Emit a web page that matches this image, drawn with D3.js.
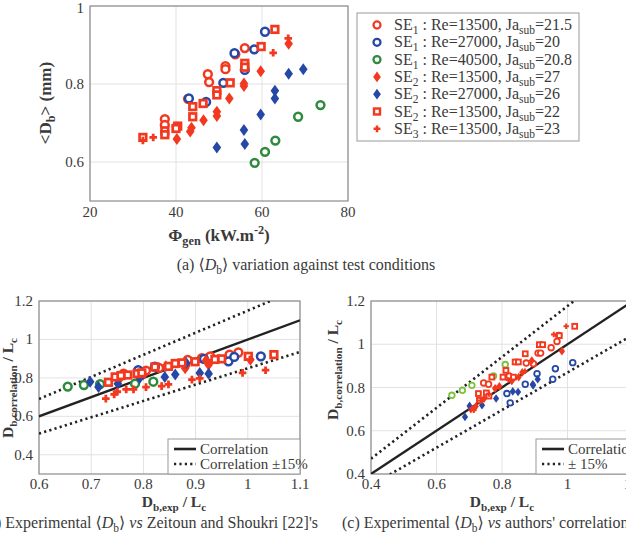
<!DOCTYPE html>
<html>
<head>
<meta charset="utf-8">
<script src="https://cdn.jsdelivr.net/npm/d3@7"></script>
<style>
body { margin: 0; background: #fff; }
</style>
</head>
<body>
<script>
// ---- data, panel (a): <Db> vs heat flux ----
const a_se1_13500 = [[37.4,0.710],[37.4,0.695],[40.2,0.690],[42.8,0.762],[47.4,0.825],[47.7,0.805],[51.5,0.846],[51.5,0.838],[53.8,0.876],[56.0,0.892]];
const a_se1_27000 = [[43.0,0.763],[47.0,0.754],[51.0,0.803],[53.6,0.879],[56.0,0.836],[58.2,0.889],[60.7,0.934]];
const a_se1_40500 = [[58.3,0.598],[60.7,0.626],[63.1,0.655],[68.4,0.716],[73.6,0.746]];
const a_se2_13500_27 = [[40.2,0.659],[43.3,0.678],[43.6,0.688],[46.4,0.707],[49.5,0.729],[49.5,0.718],[52.4,0.763],[55.8,0.795],[55.8,0.801],[59.7,0.833],[66.2,0.903]];
const a_se2_27000 = [[49.5,0.637],[55.8,0.682],[56.0,0.646],[59.7,0.722],[63.0,0.783],[63.0,0.763],[66.2,0.826],[69.6,0.838]];
const a_se2_13500_22 = [[32.3,0.663],[37.4,0.680],[37.4,0.670],[40.4,0.692],[40.0,0.686],[43.9,0.742],[43.9,0.716],[46.3,0.750],[49.5,0.783],[49.5,0.772],[52.6,0.803],[56.0,0.853],[56.0,0.843],[59.8,0.896],[63.0,0.940]];
const a_se3_13500 = [[32.3,0.655],[34.7,0.663],[62.6,0.880],[66.1,0.917]];

// ---- data, panel (b): Zeitoun and Shoukri correlation ----
const b_se1_13500 = [[0.762,0.822],[0.790,0.835],[0.805,0.838],[0.830,0.852],[0.885,0.893],[0.912,0.903],[0.928,0.912],[0.965,0.921],[0.982,0.932]];
const b_se1_27000 = [[0.790,0.840],[0.822,0.858],[0.916,0.899],[0.963,0.886],[0.974,0.909],[1.025,0.912]];
const b_se1_40500 = [[0.655,0.755],[0.686,0.763],[0.717,0.767],[0.784,0.770],[0.819,0.780]];
const b_se2_13500_27 = [[0.755,0.797],[0.800,0.818],[0.843,0.860],[0.880,0.850],[0.882,0.862],[0.920,0.890],[0.925,0.868],[1.005,0.895]];
const b_se2_27000 = [[0.698,0.780],[0.714,0.752],[0.751,0.769],[0.793,0.800],[0.841,0.805],[0.861,0.817],[0.882,0.878],[0.908,0.826],[0.925,0.822]];
const b_se2_13500_22 = [[0.733,0.777],[0.746,0.805],[0.757,0.812],[0.770,0.815],[0.788,0.822],[0.797,0.826],[0.822,0.857],[0.848,0.860],[0.861,0.875],[0.874,0.878],[0.899,0.884],[0.937,0.896],[0.950,0.899],[1.001,0.912],[1.050,0.921]];
const b_se3_13500 = [[0.728,0.692],[0.744,0.714],[0.750,0.728],[0.767,0.740],[0.781,0.740],[0.805,0.752],[0.835,0.757],[0.848,0.766],[0.893,0.791],[0.908,0.797],[0.924,0.879],[0.990,0.826],[1.004,0.895],[1.034,0.840]];

// ---- data, panel (c): authors' correlation ----
const c_se1_13500 = [[0.744,0.821],[0.759,0.815],[0.822,0.853],[0.874,0.913],[0.896,0.910],[0.910,0.959],[0.918,0.959],[0.950,0.984],[0.968,1.013],[0.973,1.041]];
const c_se1_27000 = [[0.825,0.729],[0.815,0.772],[0.871,0.815],[0.907,0.864],[0.955,0.838],[0.963,0.887],[1.016,0.915]];
const c_se1_40500 = [[0.647,0.764],[0.679,0.787],[0.708,0.810],[0.774,0.853],[0.810,0.906]];
const c_se2_13500_27 = [[0.705,0.700],[0.720,0.712],[0.745,0.748],[0.779,0.795],[0.792,0.806],[0.830,0.830],[0.851,0.848],[0.862,0.870],[0.891,0.925],[0.983,0.968]];
const c_se2_27000 = [[0.687,0.664],[0.701,0.715],[0.739,0.718],[0.782,0.749],[0.833,0.782],[0.849,0.779],[0.894,0.815],[0.895,0.810],[0.909,0.838]];
const c_se2_13500_22 = [[0.728,0.772],[0.731,0.741],[0.752,0.775],[0.760,0.760],[0.769,0.848],[0.803,0.848],[0.812,0.879],[0.835,0.848],[0.840,0.918],[0.850,0.918],[0.871,0.956],[0.914,0.998],[0.924,0.998],[0.975,1.040],[1.022,1.083]];
const c_se3_13500 = [[0.709,0.704],[0.714,0.695],[0.735,0.740],[0.760,0.770],[0.780,0.800],[0.820,0.835],[0.870,0.875],[0.958,1.045],[0.996,1.083]];

// series description (legend)
const seriesSE = ["1", "1", "1", "2", "2", "2", "3"];
const seriesRe = ["13500", "27000", "40500", "13500", "27000", "13500", "13500"];
const seriesJa = ["21.5", "20", "20.8", "27", "26", "22", "23"];
const seriesShape = ["circle", "circle", "circle", "diamond", "diamond", "square", "plus"];

// tick labels
const aXTicks = [20, 40, 60, 80];
const aYTicks = [0.6, 0.8, 1];
const bXTicks = [0.6, 0.7, 0.8, 0.9, 1, 1.1];
const bYTicks = [0.4, 0.6, 0.8, 1, 1.2];
const cXTicks = [0.4, 0.6, 0.8, 1, 1.2];
const cYTicks = [0.4, 0.6, 0.8, 1, 1.2];

const RED = "#f2391f", BLUE = "#2548a6", GREEN = "#2e8a3c", LGREEN = "#7cc242";
const TXT = "#3a3a3a";
const FONT = "'Liberation Serif', 'Times New Roman', 'DejaVu Serif', serif";

const svg = d3.select("body").append("svg").attr("width", 626).attr("height", 534)
  .style("display", "block").attr("font-family", FONT);

// text with sub/superscripts: parts = [[text, kind]] kind: "", "sub", "sup", "it"
function rich(sel, parts, size) {
  let shift = 0;
  sel.attr("font-family", FONT);
  parts.forEach(function(p) {
    const t = sel.append("tspan").text(p[0]);
    let target = 0;
    if (p[1] === "sub") target = size * 0.25;
    if (p[1] === "sup") target = -size * 0.4;
    t.attr("dy", target - shift);
    shift = target;
    if (p[1] === "sub" || p[1] === "sup") t.attr("font-size", size * 0.72);
    if (p[1] === "it") t.attr("font-style", "italic");
  });
  return sel;
}

function marker(g, shape, color, x, y, k) {
  if (shape === "circle") {
    g.append("circle").attr("cx", x).attr("cy", y).attr("r", 3.9 * k)
      .attr("fill", "#fff").attr("stroke", color).attr("stroke-width", 2.5 * k);
  } else if (shape === "square") {
    const s = 6.6 * k;
    g.append("rect").attr("x", x - s / 2).attr("y", y - s / 2).attr("width", s).attr("height", s)
      .attr("fill", "#fff").attr("stroke", color).attr("stroke-width", 2.7 * k);
  } else if (shape === "diamond") {
    const w = 4.3 * k, h = 6 * k;
    g.append("path").attr("d", "M" + x + "," + (y - h) + "L" + (x + w) + "," + y + "L" + x + "," + (y + h) + "L" + (x - w) + "," + y + "Z")
      .attr("fill", color);
  } else {
    const a = 3.8 * k, b = 1.4 * k;
    g.append("path").attr("d",
      "M" + (x - b) + "," + (y - a) + "h" + 2 * b + "v" + (a - b) + "h" + (a - b) + "v" + 2 * b + "h" + (b - a) +
      "v" + (a - b) + "h" + -2 * b + "v" + (b - a) + "h" + (b - a) + "v" + -2 * b + "h" + (a - b) + "Z")
      .attr("fill", color);
  }
}

function frame(x, y, xTicks, yTicks) {
  const g = svg.append("g");
  const [x0, x1] = x.range(), [y0, y1] = y.range();
  g.selectAll(".gx").data(xTicks).enter().append("line")
    .attr("x1", d => x(d)).attr("x2", d => x(d)).attr("y1", y0).attr("y2", y1)
    .attr("stroke", "#e2e2e2").attr("stroke-width", 1);
  g.selectAll(".gy").data(yTicks).enter().append("line")
    .attr("x1", x0).attr("x2", x1).attr("y1", d => y(d)).attr("y2", d => y(d))
    .attr("stroke", "#e2e2e2").attr("stroke-width", 1);
  g.append("rect").attr("x", x0).attr("y", y1).attr("width", x1 - x0).attr("height", y0 - y1)
    .attr("fill", "none").attr("stroke", "#8c8c8c").attr("stroke-width", 1.2);
  return g;
}

function tickLabels(x, y, xTicks, yTicks, xOff, yOff) {
  const [y0] = y.range(), [x0] = x.range();
  svg.append("g").selectAll("text").data(xTicks).enter().append("text")
    .attr("x", d => x(d)).attr("y", y0 + xOff).attr("text-anchor", "middle")
    .attr("font-family", FONT).attr("font-size", 15).attr("fill", TXT).text(d => d);
  svg.append("g").selectAll("text").data(yTicks).enter().append("text")
    .attr("x", x0 - yOff).attr("y", d => Math.max(y(d) + 5, 13)).attr("text-anchor", "end")
    .attr("font-family", FONT).attr("font-size", 15).attr("fill", TXT).text(d => d);
}

function drawSeries(g, x, y, list, colors, k) {
  list.forEach(function(data, i) {
    data.forEach(function(d) {
      marker(g, seriesShape[i], colors[i], x(d[0]), y(d[1]), k);
    });
  });
}

function panelA() {
  const x = d3.scaleLinear().domain([20, 80]).range([90, 348]);
  const y = d3.scaleLinear().domain([0.5, 1]).range([201, 6]);
  frame(x, y, aXTicks, aYTicks);
  tickLabels(x, y, aXTicks, aYTicks, 16, 6);
  const colors = [RED, BLUE, GREEN, RED, BLUE, RED, RED];
  const g = svg.append("g");
  drawSeries(g, x, y, [a_se1_13500, a_se1_27000, a_se1_40500, a_se2_13500_27, a_se2_27000, a_se2_13500_22, a_se3_13500], colors, 1);

  rich(svg.append("text").attr("x", 219).attr("y", 241).attr("text-anchor", "middle")
    .attr("font-size", 17).attr("font-weight", "bold").attr("fill", TXT),
    [["\u03A6", ""], ["gen", "sub"], ["  (kW.m", ""], ["-2", "sup"], [")", ""]], 17);
  rich(svg.append("text").attr("transform", "translate(51,103) rotate(-90)").attr("text-anchor", "middle")
    .attr("font-size", 17).attr("font-weight", "bold").attr("fill", TXT),
    [["<D", ""], ["b", "sub"], [">  (mm)", ""]], 17);
  rich(svg.append("text").attr("x", 306).attr("y", 270).attr("text-anchor", "middle")
    .attr("font-size", 16).attr("fill", TXT),
    [["(a) \u27E8", ""], ["D", "it"], ["b", "sub"], ["\u27E9 variation against test conditions", ""]], 16);

  // legend
  const lg = svg.append("g");
  lg.append("rect").attr("x", 357).attr("y", 13).attr("width", 222).attr("height", 128)
    .attr("fill", "#fff").attr("stroke", "#999").attr("stroke-width", 1);
  seriesSE.forEach(function(se, i) {
    const yy = 25 + i * 17.3;
    marker(lg, seriesShape[i], colors[i], 377, yy, 0.9);
    rich(lg.append("text").attr("x", 394).attr("y", yy + 5).attr("font-size", 16).attr("fill", TXT),
      [["SE", ""], [se, "sub"], [" : Re=" + seriesRe[i] + ", Ja", ""], ["sub", "sub"], ["=" + seriesJa[i], ""]], 16);
  });
}

function refLines(g, x, y, solid, dotted) {
  const clipId = "clip" + Math.round(x.range()[0]);
  svg.append("clipPath").attr("id", clipId).append("rect")
    .attr("x", x.range()[0]).attr("y", y.range()[1])
    .attr("width", x.range()[1] - x.range()[0]).attr("height", y.range()[0] - y.range()[1]);
  const line = d3.line().x(d => x(d[0])).y(d => y(d[1]));
  const xs = x.domain();
  const lg = g.append("g").attr("clip-path", "url(#" + clipId + ")");
  lg.append("path").attr("d", line(xs.map(v => [v, solid(v)])))
    .attr("stroke", "#222").attr("stroke-width", 2.3).attr("fill", "none");
  dotted.forEach(function(f) {
    lg.append("path").attr("d", line(xs.map(v => [v, f(v)])))
      .attr("stroke", "#222").attr("stroke-width", 2.6).attr("fill", "none")
      .attr("stroke-dasharray", "2.2,3.2");
  });
}

function smallLegend(x0, y0, w, labels) {
  const lg = svg.append("g");
  lg.append("rect").attr("x", x0).attr("y", y0).attr("width", w).attr("height", 35)
    .attr("fill", "#fff").attr("stroke", "#999").attr("stroke-width", 1);
  lg.append("line").attr("x1", x0 + 6).attr("x2", x0 + 28).attr("y1", y0 + 10).attr("y2", y0 + 10)
    .attr("stroke", "#222").attr("stroke-width", 2.6);
  lg.append("line").attr("x1", x0 + 6).attr("x2", x0 + 28).attr("y1", y0 + 25).attr("y2", y0 + 25)
    .attr("stroke", "#222").attr("stroke-width", 2.6).attr("stroke-dasharray", "2.2,3.2");
  labels.forEach(function(t, i) {
    lg.append("text").attr("x", x0 + 32).attr("y", y0 + 15 + i * 15)
      .attr("font-family", FONT).attr("font-size", 15).attr("fill", TXT).text(t);
  });
}

function axisTitles(cx, cy, yx, yy) {
  rich(svg.append("text").attr("x", cx).attr("y", cy).attr("text-anchor", "middle")
    .attr("font-size", 15.5).attr("font-weight", "bold").attr("fill", TXT),
    [["D", ""], ["b,exp", "sub"], ["  /  L", ""], ["c", "sub"]], 15.5);
  rich(svg.append("text").attr("transform", "translate(" + yx + "," + yy + ") rotate(-90)").attr("text-anchor", "middle")
    .attr("font-size", 15.5).attr("font-weight", "bold").attr("fill", TXT),
    [["D", ""], ["b,correlation", "sub"], [" / L", ""], ["c", "sub"]], 15.5);
}

function panelB() {
  const x = d3.scaleLinear().domain([0.6, 1.1]).range([39, 300]);
  const y = d3.scaleLinear().domain([0.3, 1.2]).range([474, 301]);
  frame(x, y, bXTicks, bYTicks);
  tickLabels(x, y, bXTicks, bYTicks, 15, 6);
  const g = svg.append("g");
  refLines(g, x, y, v => v, [v => v * 1.15, v => v * 0.85]);
  const colors = [RED, BLUE, GREEN, RED, BLUE, RED, RED];
  drawSeries(g, x, y, [b_se1_13500, b_se1_27000, b_se1_40500, b_se2_13500_27, b_se2_27000, b_se2_13500_22, b_se3_13500], colors, 1);
  smallLegend(168, 439, 132, ["Correlation", "Correlation \u00B115%"]);
  axisTitles(174, 507, 13, 388);
  rich(svg.append("text").attr("x", 318).attr("y", 528).attr("text-anchor", "end")
    .attr("font-size", 16).attr("fill", TXT),
    [["(b) Experimental \u27E8", ""], ["D", "it"], ["b", "sub"], ["\u27E9 ", ""], ["vs", "it"], [" Zeitoun and Shoukri [22]'s", ""]], 16);
}

function panelC() {
  const x = d3.scaleLinear().domain([0.4, 1.2]).range([371, 633]);
  const y = d3.scaleLinear().domain([0.4, 1.2]).range([474, 301]);
  frame(x, y, cXTicks, cYTicks);
  tickLabels(x, y, cXTicks, cYTicks, 15, 6);
  const g = svg.append("g");
  refLines(g, x, y, v => v, [v => v / 0.85, v => v / 1.15]);
  const colors = [RED, BLUE, LGREEN, RED, BLUE, RED, RED];
  drawSeries(g, x, y, [c_se1_13500, c_se1_27000, c_se1_40500, c_se2_13500_27, c_se2_27000, c_se2_13500_22, c_se3_13500], colors, 0.72);
  smallLegend(536, 439, 100, ["Correlation", "\u00B1 15%"]);
  axisTitles(502, 507, 338, 370);
  rich(svg.append("text").attr("x", 342).attr("y", 528).attr("text-anchor", "start")
    .attr("font-size", 16).attr("fill", TXT),
    [["(c) Experimental \u27E8", ""], ["D", "it"], ["b", "sub"], ["\u27E9 ", ""], ["vs", "it"], [" authors' correlation", ""]], 16);
}

window.onload = function() {
  panelA(); panelB(); panelC();
};
</script>
</body>
</html>
